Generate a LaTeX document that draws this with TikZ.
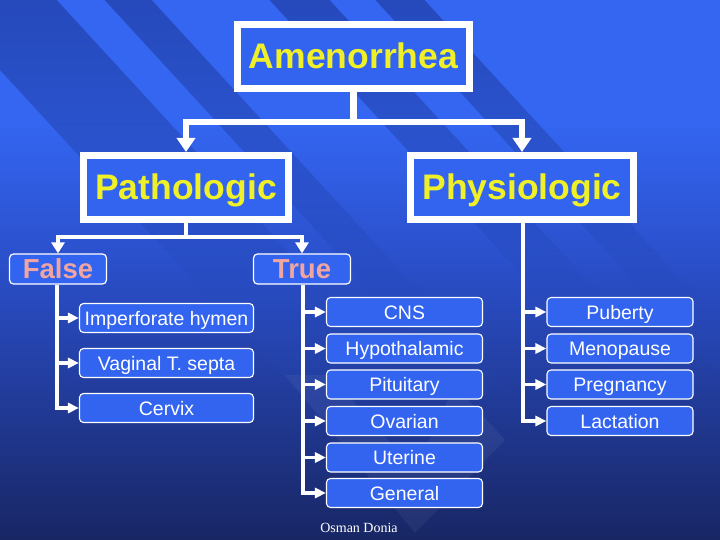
\documentclass[tikz,border=0pt]{standalone}
\usepackage{fontspec}
\setmainfont{Liberation Sans}
\newfontfamily\signfont{Liberation Serif}
\usetikzlibrary{arrows.meta,fadings}

\definecolor{bgtop}{RGB}{52,102,242}
\definecolor{bgmid}{RGB}{42,78,200}
\definecolor{bgbot}{RGB}{24,38,100}
\definecolor{stripe}{RGB}{38,74,188}
\definecolor{boxblue}{RGB}{50,100,240}
\definecolor{headyellow}{RGB}{240,240,40}
\definecolor{branchpink}{RGB}{240,165,160}

\pgfdeclareverticalshading{slide}{100bp}{color(0bp)=(bgbot); color(25bp)=(bgbot);
    color(50bp)=(bgmid); color(64bp)=(bgtop); color(100bp)=(bgtop)}
\tikzfading[name=fadedown, top color=transparent!0, middle color=transparent!30, bottom color=transparent!100]

\tikzset{
    head/.style={draw=white, line width=7pt, fill=boxblue, text=headyellow,
        font=\fontsize{35.5}{40}\selectfont\bfseries, inner sep=0pt,
        minimum height=64pt, text height=25pt, text depth=0pt},
    branch/.style={draw=white, line width=1.2pt, rounded corners=4pt, fill=boxblue,
        text=branchpink, font=\fontsize{27.5}{30}\selectfont\bfseries, inner sep=0pt,
        minimum width=97pt, minimum height=30pt, text height=19pt, text depth=0pt},
    leaf/.style={draw=white, line width=1.1pt, rounded corners=4pt, fill=boxblue,
        text=white, font=\fontsize{19.5}{22}\selectfont, inner sep=0pt,
        minimum height=29pt, text height=14pt, text depth=0pt},
    trunk/.style={draw=white, line width=6.5pt, -{Triangle[length=14pt,width=18pt]}},
    limb/.style={draw=white, line width=4pt, -{Triangle[length=11pt,width=13pt]}},
    twig/.style={draw=white, line width=3.5pt, -{Triangle[length=11pt,width=10pt]}}
}

\begin{document}
\begin{tikzpicture}[x=1pt, y=-1pt]
    \useasboundingbox (0,0) rectangle (720,540);
    % background
    \shade[shading=slide] (0,0) rectangle (720,540);
    \begin{scope}
        \clip (0,0) rectangle (720,540);
        \fill[stripe, path fading=fadedown]
            (-64,0) -- (57,0) -- (443,420) -- (322,420) -- cycle
            (105,0) -- (152,0) -- (538,420) -- (491,420) -- cycle
            (270,0) -- (330,0) -- (716,420) -- (656,420) -- cycle
            (376,0) -- (425,0) -- (811,420) -- (762,420) -- cycle;
        \fill[white, opacity=0.05] (285,375) -- (415,533) -- (505,440) -- (455,385)
            -- (415,470) -- (330,375) -- cycle;
    \end{scope}

    % boxes
    \node[head, minimum width=232pt] (amen) at (353.5,56.5) {Amenorrhea};
    \node[head, minimum width=205pt] (patho) at (186,187.5) {Pathologic};
    \node[head, minimum width=223pt] (physio) at (522,187.5) {Physiologic};

    \node[branch] (fls) at (58,269) {False};
    \node[branch] (tru) at (302,269) {True};

    \begin{scope}[leaf/.append style={minimum width=174pt}]
        \node[leaf] (hymen) at (166.5,318) {Imperforate hymen};
        \node[leaf] (septa) at (166.5,363) {Vaginal T. septa};
        \node[leaf] (cervix) at (166.5,408) {Cervix};
    \end{scope}

    \begin{scope}[leaf/.append style={minimum width=156pt}]
        \node[leaf] (cns) at (404.5,312) {CNS};
        \node[leaf] (hypo) at (404.5,348.5) {Hypothalamic};
        \node[leaf] (pitu) at (404.5,384.5) {Pituitary};
        \node[leaf] (ovar) at (404.5,421) {Ovarian};
        \node[leaf] (uter) at (404.5,457.5) {Uterine};
        \node[leaf] (gen) at (404.5,493) {General};
    \end{scope}

    \begin{scope}[leaf/.append style={minimum width=146pt}]
        \node[leaf] (pub) at (620,312) {Puberty};
        \node[leaf] (meno) at (620,348.5) {Menopause};
        \node[leaf] (preg) at (620,384.5) {Pregnancy};
        \node[leaf] (lact) at (620,421) {Lactation};
    \end{scope}

    % connectors
    \draw[trunk, -] (amen.south) -- (amen.south |- 0,122) coordinate (split);
    \draw[trunk] (split) -| (patho.north);
    \draw[trunk] (split) -| (physio.north);

    \draw[limb, -] (patho.south) -- (patho.south |- 0,237) coordinate (fork);
    \draw[limb] (fork) -| (fls.north);
    \draw[limb] (fork) -| (tru.north);

    \draw[twig] (fls.south -| 57,0) |- (cervix.west);
    \draw[twig] (57,0 |- hymen.west) -- (hymen.west);
    \draw[twig] (57,0 |- septa.west) -- (septa.west);

    \draw[twig] (tru.south -| 303,0) |- (gen.west);
    \foreach \n in {cns,hypo,pitu,ovar,uter}
        \draw[twig] (303,0 |- \n.west) -- (\n.west);

    \draw[twig] (physio.south -| 523,0) |- (lact.west);
    \foreach \n in {pub,meno,preg}
        \draw[twig] (523,0 |- \n.west) -- (\n.west);

    \node[text=white, font=\signfont\fontsize{14}{16}\selectfont] (sign) at (359,528) {Osman Donia};
\end{tikzpicture}
\end{document}
